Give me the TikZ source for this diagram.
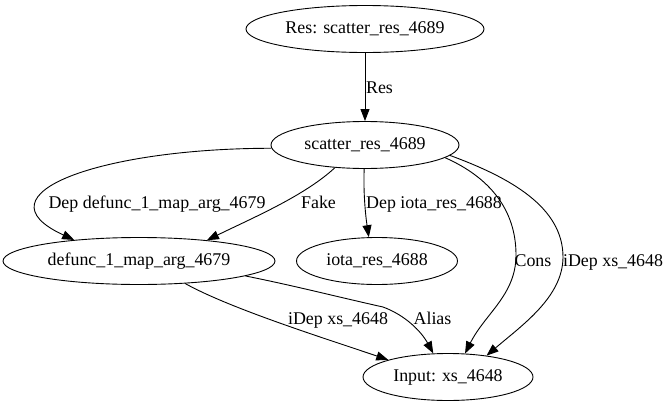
\documentclass[tikz,border=0pt]{standalone}
\usepackage{fontspec}
\setmainfont{Liberation Serif}
\usetikzlibrary{arrows.meta,shapes.geometric}

\begin{document}
\begin{tikzpicture}[x=1pt,y=-1pt,line width=0.9pt,
  >={Triangle[length=12pt,width=9pt]},
  font=\fontsize{17.9}{21}\selectfont,
  vtx/.style={ellipse,draw,inner sep=0pt,minimum height=47pt},
  lbl/.style={inner sep=0pt,anchor=base}]
\useasboundingbox (0,0) rectangle (669,407);

\node[vtx,minimum width=238pt] (RES)    at (365,29)  {Res: scatter\_res\_4689};
\node[vtx,minimum width=188pt] (SCAT)   at (365,145) {scatter\_res\_4689};
\node[vtx,minimum width=272pt] (DEFUNC) at (139,261) {defunc\_1\_map\_arg\_4679};
\node[vtx,minimum width=161pt] (IOTA)   at (377,261) {iota\_res\_4688};
\node[vtx,minimum width=170pt] (INPUT)  at (448,377) {Input: xs\_4648};

\path[->] (RES) edge (SCAT);
\draw[->] (SCAT.182) .. controls +(-170,0) and +(-100,-46) .. (DEFUNC.162);
\draw[->] (SCAT.217) .. controls +(-30,28) and +(45,-22) .. (DEFUNC.17);
\draw[->] (SCAT.268) .. controls +(-1,25) and +(-3,-20) .. (IOTA.109);
\draw[->] (SCAT.351) .. controls +(45,20) and +(0,-45) .. (516,255)
                     .. controls +(0,40) and +(20,-40) .. (INPUT.54);
\draw[->] (SCAT.353) .. controls +(60,22) and +(0,-50) .. (563,257)
                     .. controls +(0,40) and +(35,-30) .. (INPUT.29);
\draw[->] (DEFUNC.334) .. controls +(45,25) and +(-65,-22) .. (INPUT.164);
\draw[->] (DEFUNC.352) .. controls +(50,10) and +(-45,-10) .. (383,307)
                       .. controls +(22,8) and +(-12,-22) .. (INPUT.122);

% edge labels
\node[lbl] (LRES)   at (379.5,93) {Res};
\node[lbl] (LDEPD)  at (157,208)  {Dep defunc\_1\_map\_arg\_4679};
\node[lbl] (LFAKE)  at (318.5,208) {Fake};
\node[lbl] (LDEPI)  at (434,208)  {Dep iota\_res\_4688};
\node[lbl] (LCONS)  at (533,266)  {Cons};
\node[lbl] (LIDEPS) at (613,266)  {iDep xs\_4648};
\node[lbl] (LIDEPD) at (338,324)  {iDep xs\_4648};
\node[lbl] (LALIAS) at (432.5,324) {Alias};
\end{tikzpicture}
\end{document}
